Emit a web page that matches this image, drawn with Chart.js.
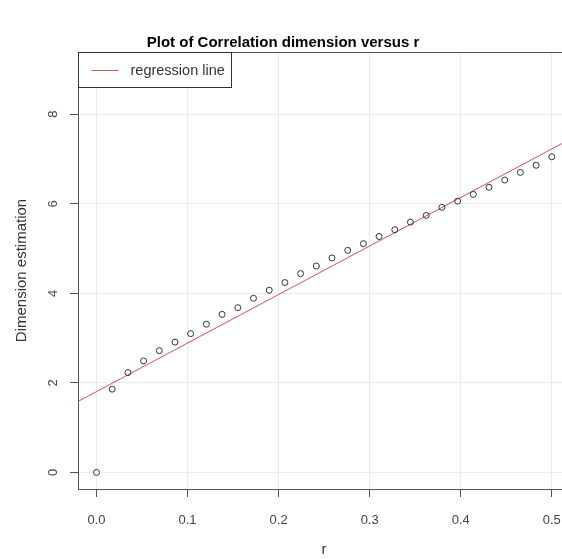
<!DOCTYPE html>
<html>
<head>
<meta charset="utf-8">
<script src="https://cdn.jsdelivr.net/npm/chart.js@4"></script>
<style>
  html, body { margin: 0; padding: 0; background: #fff; overflow: hidden; }
  #wrap { width: 562px; height: 559px; overflow: hidden; }
  canvas { display: block; }
</style>
</head>
<body>
<div id="wrap"><canvas id="c" width="574" height="559"></canvas></div>
<script>
// ---- data ----
const rValues = [0, 0.0172, 0.0345, 0.0517, 0.069, 0.0862, 0.1034, 0.1207, 0.1379, 0.1552,
                 0.1724, 0.1897, 0.2069, 0.2241, 0.2414, 0.2586, 0.2759, 0.2931, 0.3103, 0.3276,
                 0.3448, 0.3621, 0.3793, 0.3966, 0.4138, 0.431, 0.4483, 0.4655, 0.4828, 0.5];
const dimValues = [0, 1.86, 2.23, 2.49, 2.72, 2.91, 3.10, 3.31, 3.53, 3.68,
                   3.89, 4.07, 4.24, 4.44, 4.61, 4.79, 4.96, 5.11, 5.27, 5.42,
                   5.59, 5.74, 5.92, 6.06, 6.21, 6.37, 6.53, 6.70, 6.86, 7.05];
const regCoef = [1.805, 10.84];           // intercept, slope of regression line
const xRange = [-0.0203, 0.52];
const yRange = [-0.37, 9.39];
const xTickStep = 0.1;
const yTickStep = 2;
const titleText = 'Plot of Correlation dimension versus r';
const xTitle = 'r';
const yTitle = 'Dimension estimation';
const legendLabel = 'regression line';

const FONT = 'Liberation Sans, Arial, sans-serif';
const points = rValues.map((r, i) => ({x: r, y: dimValues[i]}));
const regLine = xRange.map(x => ({x: x, y: regCoef[0] + regCoef[1] * x}));

const rPlotPlugin = {
  id: 'rPlot',
  afterDraw(chart) {
    const ctx = chart.ctx;
    const a = chart.chartArea;
    const ys = chart.scales.y;
    ctx.save();
    // main title
    ctx.fillStyle = '#000';
    ctx.font = 'bold 15px ' + FONT;
    ctx.textAlign = 'center';
    ctx.textBaseline = 'middle';
    ctx.fillText(titleText, 283, 43);
    // box: top edge (left and bottom are the axis borders)
    ctx.strokeStyle = '#555';
    ctx.lineWidth = 1;
    const t = Math.round(a.top) + 0.5;
    ctx.beginPath();
    ctx.moveTo(Math.round(a.left), t);
    ctx.lineTo(a.right, t);
    ctx.stroke();
    // rotated y tick labels
    ctx.fillStyle = '#444';
    ctx.font = '13px ' + FONT;
    ys.ticks.forEach(tk => {
      const py = ys.getPixelForValue(tk.value);
      ctx.save();
      ctx.translate(a.left - 25, py);
      ctx.rotate(-Math.PI / 2);
      ctx.fillText(String(tk.value), 0, 0);
      ctx.restore();
    });
    // legend
    const lx = Math.round(a.left) + 0.5, ly = Math.round(a.top) + 0.5;
    ctx.fillStyle = '#fff';
    ctx.fillRect(lx, ly, 153, 35);
    ctx.strokeStyle = '#333';
    ctx.strokeRect(lx, ly, 153, 35);
    ctx.strokeStyle = 'rgb(205,85,85)';
    ctx.beginPath();
    ctx.moveTo(lx + 13, ly + 18);
    ctx.lineTo(lx + 40, ly + 18);
    ctx.stroke();
    ctx.fillStyle = '#333';
    ctx.textAlign = 'left';
    ctx.font = '14.5px ' + FONT;
    ctx.fillText(legendLabel, lx + 52, ly + 18);
    ctx.restore();
  }
};

new Chart(document.getElementById('c'), {
  type: 'scatter',
  data: {
    datasets: [
      {
        label: 'points',
        data: points,
        pointStyle: 'circle',
        pointRadius: 3,
        pointBorderWidth: 1,
        borderColor: '#333',
        backgroundColor: 'rgba(0,0,0,0)',
        pointHoverRadius: 3
      },
      {
        label: legendLabel,
        type: 'line',
        data: regLine,
        borderColor: 'rgb(205,85,85)',
        borderWidth: 1,
        pointRadius: 0,
        fill: false
      }
    ]
  },
  options: {
    responsive: false,
    animation: false,
    events: [],
    layout: { padding: { left: 0, right: 1, top: 52, bottom: 0 } },
    plugins: {
      legend: { display: false },
      tooltip: { enabled: false },
      title: { display: false }
    },
    scales: {
      x: {
        type: 'linear',
        min: xRange[0],
        max: xRange[1],
        afterFit(s) { s.height = 70; s.paddingRight = 0; s.paddingLeft = 0; },
        ticks: {
          stepSize: xTickStep,
          includeBounds: false,
          color: '#444',
          font: { family: FONT, size: 13 },
          padding: 16,
          maxRotation: 0,
          callback: v => Number(v).toFixed(1)
        },
        grid: { color: '#ebebeb', tickColor: '#555', tickLength: 8, lineWidth: 1 },
        border: { display: true, color: '#555' },
        title: {
          display: true, text: xTitle, color: '#333',
          font: { family: FONT, size: 15 },
          padding: { top: 0, bottom: 0 }
        }
      },
      y: {
        type: 'linear',
        min: yRange[0],
        max: yRange[1],
        afterFit(s) { s.width = 78; s.paddingTop = 0; s.paddingBottom = 0; },
        ticks: {
          stepSize: yTickStep,
          includeBounds: false,
          color: 'rgba(0,0,0,0)',
          font: { family: FONT, size: 13 }
        },
        grid: { color: '#ebebeb', tickColor: '#555', tickLength: 8, lineWidth: 1 },
        border: { display: true, color: '#555' },
        title: {
          display: true, text: yTitle, color: '#333',
          font: { family: FONT, size: 15 },
          padding: { top: 13, bottom: 0 }
        }
      }
    }
  },
  plugins: [rPlotPlugin]
});
</script>
</body>
</html>
